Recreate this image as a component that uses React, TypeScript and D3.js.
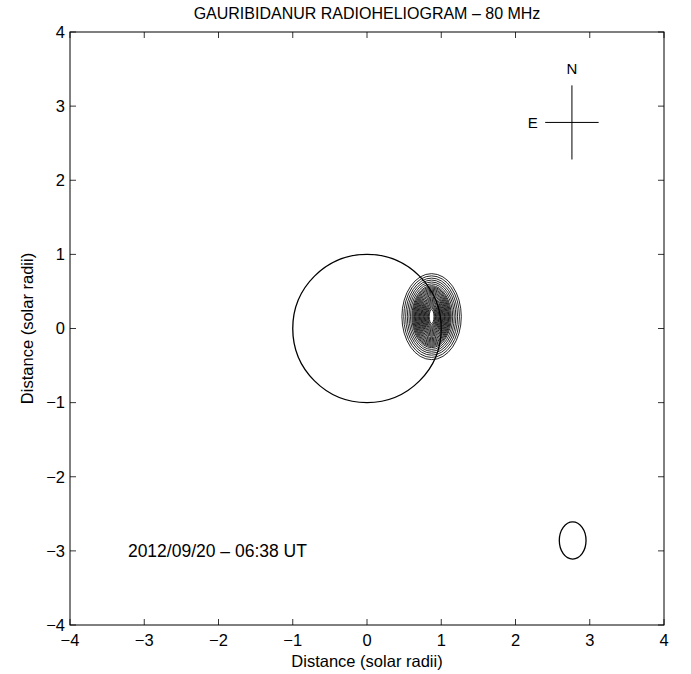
import React from 'react';
import * as d3 from 'd3';

// tick values on both axes (solar radii)
const xTicks = [-4, -3, -2, -1, 0, 1, 2, 3, 4];
const yTicks = [-4, -3, -2, -1, 0, 1, 2, 3, 4];

// radio source centre and contour semi-axes (outer to inner), in solar radii
const sourceCentre = [0.87, 0.16];
const contourRx = [0.40, 0.375, 0.35, 0.327, 0.305, 0.284, 0.265, 0.253, 0.241, 0.23, 0.219, 0.208, 0.197, 0.186, 0.175, 0.164, 0.153, 0.142, 0.131, 0.12, 0.109, 0.098, 0.087, 0.076, 0.065, 0.054, 0.043, 0.032];
const contourRy = [0.58, 0.55, 0.52, 0.493, 0.467, 0.442, 0.418, 0.402, 0.387, 0.372, 0.357, 0.342, 0.327, 0.312, 0.297, 0.282, 0.267, 0.252, 0.237, 0.222, 0.207, 0.192, 0.177, 0.162, 0.147, 0.132, 0.115, 0.095];

// beam ellipse: centre x, centre y, semi-axis x, semi-axis y
const beam = [2.77, -2.86, 0.18, 0.25];

// compass cross: centre, half-lengths
const compass = [2.76, 2.78, 0.36, 0.5];

const titleText = 'GAURIBIDANUR RADIOHELIOGRAM \u2013 80 MHz';
const dateText = '2012/09/20 \u2013 06:38 UT';
const axisLabel = 'Distance (solar radii)';

const W = 691, H = 674;
const margin = { top: 32, right: 27, bottom: 49, left: 70 };
const font = '"Liberation Sans", Arial, Helvetica, sans-serif';

export default function App() {
    const x = d3.scaleLinear().domain([-4, 4]).range([margin.left, W - margin.right]);
    const y = d3.scaleLinear().domain([-4, 4]).range([H - margin.bottom, margin.top]);
    const fmt = (d: number) => (d < 0 ? '\u2212' + Math.abs(d) : String(d));
    const tick = 6;
    const [cx, cy] = sourceCentre;

    return (
        <svg width={W} height={H} style={{ position: 'absolute', left: 0, top: 0, background: '#fff' }}
            fontFamily={font}>
            <rect x={0} y={0} width={W} height={H} fill="#fff" />

            {/* ticks on all four sides, pointing in */}
            {xTicks.map(t => (
                <g key={'xt' + t} stroke="#000" strokeWidth={0.8}>
                    <line x1={x(t)} x2={x(t)} y1={y(-4)} y2={y(-4) - tick} />
                    <line x1={x(t)} x2={x(t)} y1={y(4)} y2={y(4) + tick} />
                </g>
            ))}
            {yTicks.map(t => (
                <g key={'yt' + t} stroke="#000" strokeWidth={0.8}>
                    <line x1={x(-4)} x2={x(-4) + tick} y1={y(t)} y2={y(t)} />
                    <line x1={x(4)} x2={x(4) - tick} y1={y(t)} y2={y(t)} />
                </g>
            ))}
            <rect x={x(-4)} y={y(4)} width={x(4) - x(-4)} height={y(-4) - y(4)}
                fill="none" stroke="#000" strokeWidth={1} />

            {xTicks.map(t => (
                <text key={'xl' + t} x={x(t)} y={y(-4) + 21} fontSize={16.5} textAnchor="middle">{fmt(t)}</text>
            ))}
            {yTicks.map(t => (
                <text key={'yl' + t} x={x(-4) - 5} y={y(t)} dy="0.35em" fontSize={16.5} textAnchor="end">{fmt(t)}</text>
            ))}

            <text x={(x(-4) + x(4)) / 2} y={19} fontSize={16} textAnchor="middle">{titleText}</text>
            <text x={(x(-4) + x(4)) / 2} y={667} fontSize={16.5} textAnchor="middle">{axisLabel}</text>
            <text transform={`translate(27,${(y(-4) + y(4)) / 2}) rotate(-90)`} dy="0.35em"
                fontSize={16.5} textAnchor="middle">{axisLabel}</text>

            {/* solar disc */}
            <ellipse cx={x(0)} cy={y(0)} rx={x(1) - x(0)} ry={y(0) - y(1)} fill="none" stroke="#000" strokeWidth={1.3} />

            {/* radio source contours */}
            <g fill="none" stroke="#000" strokeWidth={0.85}>
                {contourRx.map((r, i) => (
                    <ellipse key={'c' + i} cx={x(cx)} cy={y(cy)} rx={x(r) - x(0)} ry={y(0) - y(contourRy[i])} />
                ))}
            </g>

            {/* beam */}
            <ellipse cx={x(beam[0])} cy={y(beam[1])} rx={x(beam[2]) - x(0)} ry={y(0) - y(beam[3])}
                fill="none" stroke="#000" strokeWidth={1.3} />

            {/* compass */}
            <g stroke="#000" strokeWidth={1}>
                <line x1={x(compass[0] - compass[2])} x2={x(compass[0] + compass[2])} y1={y(compass[1])} y2={y(compass[1])} />
                <line x1={x(compass[0])} x2={x(compass[0])} y1={y(compass[1] + compass[3])} y2={y(compass[1] - compass[3])} />
            </g>
            <text x={x(compass[0])} y={y(compass[1] + 0.73)} dy="0.35em" fontSize={15} textAnchor="middle">N</text>
            <text x={x(compass[0] - compass[2] - 0.1)} y={y(compass[1])} dy="0.35em" fontSize={15} textAnchor="end">E</text>

            <text x={x(-3.22)} y={y(-3)} dy="0.35em" fontSize={17.5}>{dateText}</text>
        </svg>
    );
}
